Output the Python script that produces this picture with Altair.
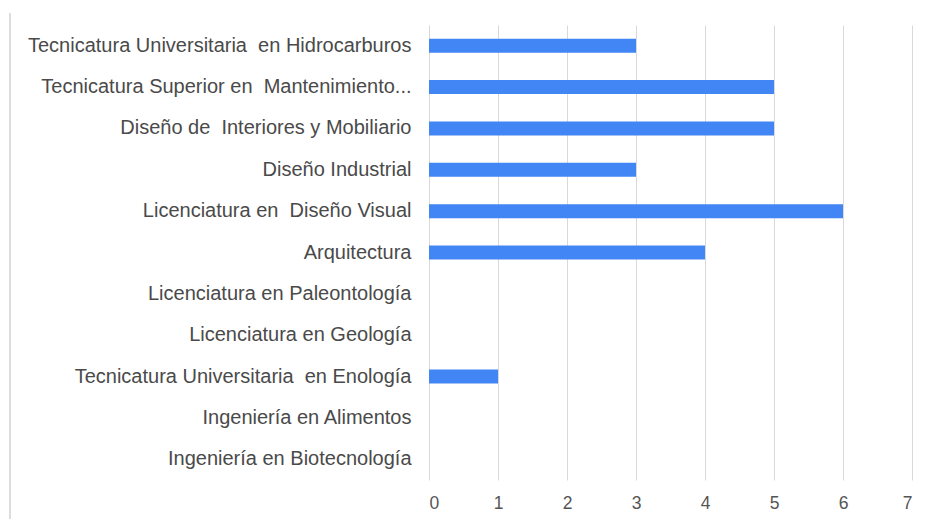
import altair as alt
import pandas as pd

categories = [
    "Tecnicatura Universitaria \u00a0en Hidrocarburos",
    "Tecnicatura Superior en \u00a0Mantenimiento...",
    "Diseño de \u00a0Interiores y Mobiliario",
    "Diseño Industrial",
    "Licenciatura en \u00a0Diseño Visual",
    "Arquitectura\u00a0",
    "Licenciatura en Paleontología",
    "Licenciatura en Geología",
    "Tecnicatura Universitaria \u00a0en Enología",
    "Ingeniería en Alimentos",
    "Ingeniería en Biotecnología",
]
values = [3, 5, 5, 3, 6, 4, 0, 0, 1, 0, 0]
x_ticks = [0, 1, 2, 3, 4, 5, 6, 7]

df = pd.DataFrame({"carrera": categories, "valor": values})

font = "Liberation Sans"

bars = alt.Chart(df).mark_bar(size=14, color="#4285f4").encode(
    x=alt.X("valor:Q", scale=alt.Scale(domain=[0, 7], nice=False),
            axis=alt.Axis(values=x_ticks, title=None, grid=True, gridColor="#d9d9d9",
                          domain=False, ticks=False, labelPadding=14, labelFontSize=17.5,
                          labelColor="#555555", labelFont=font, format="d")),
    y=alt.Y("carrera:N", sort=categories,
            axis=alt.Axis(title=None, domain=False, ticks=False, labelPadding=18,
                          labelFontSize=20, labelColor="#4a4a4a", labelFont=font,
                          labelLimit=500)),
)

frame = alt.Chart(df).mark_rule(color="#dddddd", strokeWidth=1.5).encode(
    x=alt.value(-419), y=alt.value(-12), y2=alt.value(494)
)

chart = alt.layer(bars, frame).properties(
    width=483, height=455,
    autosize=alt.AutoSizeParams(type="none"),
    padding={"left": 421, "top": 17, "right": 12, "bottom": 46},
).configure_view(stroke=None)

chart.save("out.html", embed_options={"renderer": "svg", "actions": False})
